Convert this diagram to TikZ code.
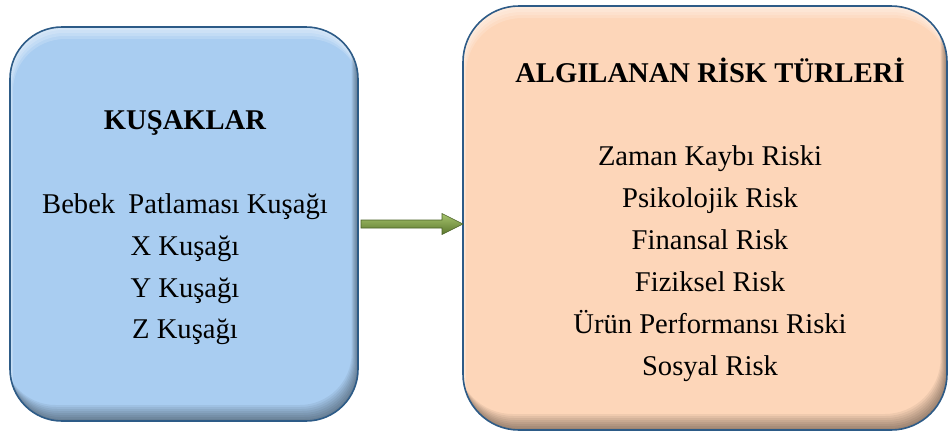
\documentclass[tikz,border=0pt]{standalone}
\usepackage{fontspec}
\setmainfont{Liberation Serif}
\usetikzlibrary{calc}
\definecolor{boxblue}{HTML}{A9CDF1}
\definecolor{boxpeach}{HTML}{FDD6B9}
\definecolor{edgeblue}{HTML}{2D5B87}
\definecolor{arrowlight}{HTML}{A6C46C}
\definecolor{arrowdark}{HTML}{5C772D}
\definecolor{arrowedge}{HTML}{4A6126}
\tikzset{
  bevelbox/.style={draw=edgeblue, line width=1.6pt, rounded corners=#1, outer sep=0pt, inner sep=0pt,
    path picture={
      \coordinate (pa) at (path picture bounding box.south west);
      \coordinate (pb) at (path picture bounding box.north east);
      \foreach \d in {3,6,9,12} {
        \fill[white, opacity=0.17, even odd rule, rounded corners=#1]
          (pa) rectangle (pb)
          ($(pa)+(0.25*\d pt,-\d pt)$) rectangle ($(pb)+(0.25*\d pt,-\d pt)$);
      }
      \foreach \d in {2,4,6,8,10,12,14,16} {
        \fill[black, opacity=0.055, even odd rule, rounded corners=#1]
          (pa) rectangle (pb)
          ($(pa)+(-0.4*\d pt,\d pt)$) rectangle ($(pb)+(-0.4*\d pt,\d pt)$);
      }
    }},
  lbl/.style={font=\fontsize{28.6}{42}\selectfont, anchor=base, inner sep=0pt},
  headlbl/.style={lbl, font=\fontsize{28.6}{42}\selectfont\bfseries},
  arrowbody/.style={draw=arrowedge, line width=0.6pt, top color=arrowlight, bottom color=arrowdark, line join=miter}
}
\begin{document}
\begin{tikzpicture}[x=1pt,y=-1pt]
\useasboundingbox (0,0) rectangle (950,432);
\node[bevelbox=52pt, fill=boxblue, minimum width=348pt, minimum height=394pt] (kusak) at (184,224) {};
\node[bevelbox=56pt, fill=boxpeach, minimum width=484pt, minimum height=424pt] (risk) at (705,218) {};

\node[headlbl] (h1) at (185,129) {KUŞAKLAR};
\node[lbl] (k1) at (185,213) {Bebek\hspace{6pt} Patlaması Kuşağı};
\node[lbl] (k2) at (185,255) {X Kuşağı};
\node[lbl] (k3) at (185,297) {Y Kuşağı};
\node[lbl] (k4) at (185,338) {Z Kuşağı};

\node[headlbl] (h2) at (710,82) {ALGILANAN RİSK TÜRLERİ};
\node[lbl] (r1) at (710,165) {Zaman Kaybı Riski};
\node[lbl] (r2) at (710,207) {Psikolojik Risk};
\node[lbl] (r3) at (710,249) {Finansal Risk};
\node[lbl] (r4) at (710,291) {Fiziksel Risk};
\node[lbl] (r5) at (710,333) {Ürün Performansı Riski};
\node[lbl] (r6) at (710,375) {Sosyal Risk};

\coordinate (tip) at (risk.west |- kusak.east);
\path[arrowbody]
  ($(kusak.east)+(3,-4)$) -- ($(tip)+(-21,-4)$) -- ($(tip)+(-21,-10.5)$) -- (tip)
  -- ($(tip)+(-21,10.5)$) -- ($(tip)+(-21,4)$) -- ($(kusak.east)+(3,4)$) -- cycle;
\end{tikzpicture}
\end{document}
